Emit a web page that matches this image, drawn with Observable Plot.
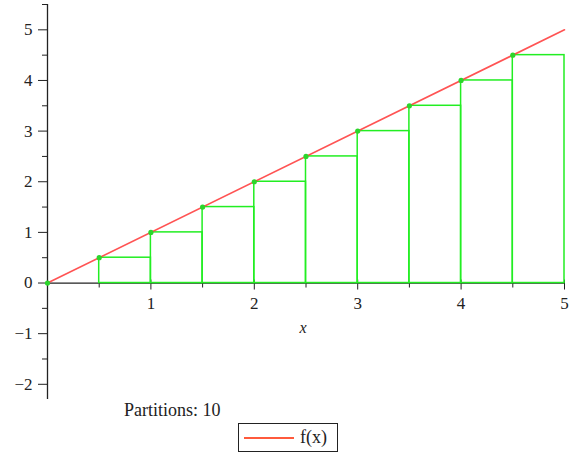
<!DOCTYPE html>
<html>
<head>
<meta charset="utf-8">
<script src="https://cdn.jsdelivr.net/npm/d3@7"></script>
<script src="https://cdn.jsdelivr.net/npm/@observablehq/plot@0.6"></script>
<style>
  html, body { margin: 0; padding: 0; background: #fff; }
  #wrap { position: relative; width: 571px; height: 455px; font-family: "Liberation Serif", "DejaVu Serif", serif; color: #222; }
  #chart { position: absolute; left: 0; top: 0; }
  #caption { position: absolute; left: 124px; top: 398px; font-size: 18px; line-height: 24px; white-space: nowrap; }
  #legend { position: absolute; left: 238px; top: 423px; width: 98px; height: 27px; border: 1px solid #222; }
  #legend .swatch { position: absolute; left: 5px; top: 13px; width: 50px; height: 2px; background: #ff5a3c; }
  #legend .lab { position: absolute; left: 61px; top: 1px; font-size: 18px; line-height: 24px; }
</style>
</head>
<body>
<div id="wrap">
  <div id="chart"></div>
  <div id="caption"></div>
  <div id="legend"><div class="swatch"></div><div class="lab"></div></div>
</div>
<script>
// ---- data ----
const partitions = 10;
const captionText = "Partitions: " + partitions;
const legendLabel = "f(x)";
const rectLeft   = [0, 0.5, 1, 1.5, 2, 2.5, 3, 3.5, 4, 4.5];
const rectRight  = [0.5, 1, 1.5, 2, 2.5, 3, 3.5, 4, 4.5, 5];
const rectHeight = [0, 0.5, 1, 1.5, 2, 2.5, 3, 3.5, 4, 4.5];
const curveX = [0, 5];
const curveY = [0, 5];
const xMajorTicks = [1, 2, 3, 4, 5];
const xMinorTicks = [0.5, 1.5, 2.5, 3.5, 4.5];
const yMajorTicks = [-2, -1, 0, 1, 2, 3, 4, 5];
const yMinorTicks = [-1.5, -0.5, 0.5, 1.5, 2.5, 3.5, 4.5, 5.5];
const xDomain = [0, 5];
const yDomain = [-2.3, 5.5];

// ---- layout ----
const W = 571, H = 400, mT = 4, mB = 1, mL = 47, mR = 7;
const pxY = (yDomain[1] - yDomain[0]) / (H - mT - mB); // data units per pixel (y)
const pxX = (xDomain[1] - xDomain[0]) / (W - mL - mR);  // data units per pixel (x)
const green = "#22ee22";
const red = "#ff4040";
const ink = "#222";
const fmt = d3.format("d");
const font = '"Liberation Serif", serif';

const rects = rectLeft.map((x1, i) => ({x1, x2: rectRight[i], h: rectHeight[i]}));
const curve = curveX.map((x, i) => ({x, y: curveY[i]}));

const chart = Plot.plot({
  width: W, height: H,
  marginTop: mT, marginBottom: mB, marginLeft: mL, marginRight: mR,
  x: {domain: xDomain, axis: null},
  y: {domain: yDomain, axis: null},
  style: {fontFamily: font, fontSize: "17px", color: ink, background: "#fff"},
  marks: [
    // y axis
    Plot.ruleX([0], {stroke: ink, strokeWidth: 1.3}),
    Plot.ruleY(yMajorTicks, {y: d => d, x1: 0, x2: -9 * pxX, stroke: ink}),
    Plot.ruleY(yMinorTicks, {y: d => d, x1: 0, x2: -5 * pxX, stroke: ink}),
    Plot.text(yMajorTicks, {x: 0, y: d => d, dx: -15, textAnchor: "end", text: d => fmt(d), fontSize: 17, fill: ink, fontFamily: font}),
    // x axis
    Plot.ruleY([0], {x1: xDomain[0], x2: xDomain[1], stroke: ink, strokeWidth: 1.3}),
    Plot.ruleX(xMajorTicks, {x: d => d, y1: 3 * pxY, y2: -7 * pxY, stroke: ink}),
    Plot.ruleX(xMinorTicks, {x: d => d, y1: 0, y2: -5 * pxY, stroke: ink}),
    Plot.text(xMajorTicks, {x: d => d, y: 0, dy: 21, text: d => fmt(d), fontSize: 17, fill: ink, fontFamily: font}),
    Plot.text(["x"], {x: (xDomain[0] + xDomain[1]) / 2, y: 0, dy: 45, dx: -3, text: d => d, fontStyle: "italic", fontSize: 16, fill: ink, fontFamily: font}),
    // Riemann rectangles
    Plot.rect(rects, {x1: "x1", x2: "x2", y1: 0, y2: "h", fill: "none", stroke: green, strokeWidth: 1.5}),
    // function curve
    Plot.line(curve, {x: "x", y: "y", stroke: red, strokeWidth: 1.6, strokeOpacity: 0.9}),
    // sample points
    Plot.dot(rects, {x: "x1", y: "h", r: 2.6, fill: "#2bd62b", stroke: "none"})
  ]
});
document.getElementById("chart").appendChild(chart);
document.getElementById("caption").textContent = captionText;
document.querySelector("#legend .lab").textContent = legendLabel;
</script>
</body>
</html>
